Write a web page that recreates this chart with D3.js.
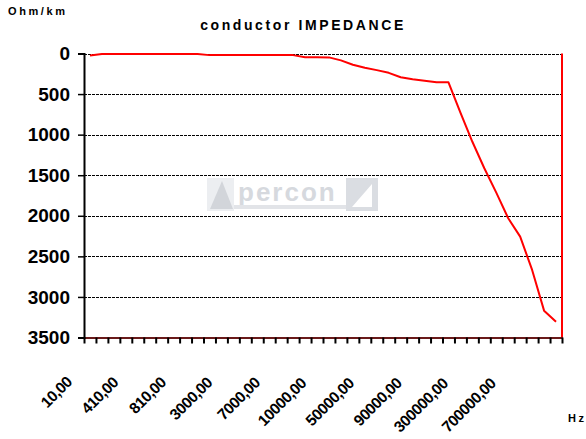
<!DOCTYPE html>
<html>
<head>
<meta charset="utf-8">
<script src="https://cdn.jsdelivr.net/npm/d3@7"></script>
<style>
	html, body { margin: 0; padding: 0; background: #fff; }
	svg { display: block; font-family: 'Liberation Sans', Arial, sans-serif; }
</style>
</head>
<body>
<svg id="chart" width="586" height="439"></svg>
<script>
// frequency categories (Hz)
const freqs = [
	10, 110, 210, 310, 410, 510, 610, 710, 810, 910,
	1000, 2000, 3000, 4000, 5000, 6000, 7000, 8000, 9000, 10000,
	10000, 20000, 30000, 40000, 50000, 60000, 70000, 80000, 90000, 100000,
	100000, 200000, 300000, 400000, 500000, 600000, 700000, 800000, 900000, 1000000
]

// impedance, Ohm/km
const impedance = [
	25, 5, 5, 5, 5, 5, 5, 5, 5, 5,
	20, 20, 20, 20, 20, 20, 20, 20, 45, 45,
	48, 85, 138, 176, 205, 238, 293, 318, 335, 355,
	355, 730, 1088, 1414, 1715, 2030, 2257, 2667, 3169, 3305
]

const yTicks = [0, 500, 1000, 1500, 2000, 2500, 3000, 3500]
const labelEvery = 4

const svg = d3.select('#chart')

const plot = { left: 84, right: 562, top: 53.5, bottom: 337.5 }

const x = d3.scaleBand()
	.domain(d3.range(freqs.length))
	.range([plot.left, plot.right])
	.padding(0)

// edges between categories, for tick marks
const xEdge = d3.scaleLinear()
	.domain([0, freqs.length])
	.range([plot.left, plot.right])

const y = d3.scaleLinear()
	.domain([0, 3500])
	.range([plot.top, plot.bottom])

// watermark (decoration only)
const wm = svg.append('g').attr('class', 'watermark')
wm.append('rect').attr('x', 207).attr('y', 178).attr('width', 27).attr('height', 33)
	.attr('fill', '#eceef1')
wm.append('polygon').attr('points', '210,209 222,181 233,209').attr('fill', '#d2d5da')
wm.append('text')
	.attr('x', 238).attr('y', 201)
	.attr('font-size', 26).attr('font-weight', 'bold')
	.attr('letter-spacing', 2)
	.attr('fill', '#d6d9de')
	.text('percon')
wm.append('rect').attr('x', 234).attr('y', 205).attr('width', 112).attr('height', 4)
	.attr('fill', '#e2e4e8')
wm.append('rect').attr('x', 346).attr('y', 178).attr('width', 32).attr('height', 33)
	.attr('fill', '#dadde2')
wm.append('polygon').attr('points', '352,207 372,207 372,184').attr('fill', '#fff')

// gridlines
svg.append('g')
	.selectAll('line')
	.data(yTicks.slice(0, -1))
	.join('line')
	.attr('x1', plot.left)
	.attr('x2', plot.right)
	.attr('y1', d => Math.round(y(d)) + 0.5)
	.attr('y2', d => Math.round(y(d)) + 0.5)
	.attr('stroke', '#000')
	.attr('stroke-width', 1)
	.attr('stroke-dasharray', '3,1')

// plot area border, right side red
svg.append('path')
	.attr('d', `M ${plot.right} ${plot.top} L ${plot.right} ${plot.bottom + 1}`)
	.attr('stroke', '#ff0000')
	.attr('stroke-width', 2)
	.attr('fill', 'none')

// x axis: ticks at category edges
const xAxis = svg.append('g')
	.attr('transform', `translate(0,${plot.bottom})`)
	.call(d3.axisBottom(xEdge)
		.tickValues(d3.range(freqs.length + 1))
		.tickSize(6)
		.tickSizeOuter(0)
		.tickFormat(''))
xAxis.select('.domain').attr('stroke', '#6a1a1a').attr('stroke-width', 2)
xAxis.selectAll('.tick line').attr('stroke', '#000').attr('stroke-width', 2)

// x labels, rotated; longer labels sit a little further left as in the original
const fmt = v => d3.format('.2f')(v).replace('.', ',')
svg.append('g')
	.selectAll('text')
	.data(d3.range(0, freqs.length, labelEvery).filter(i => i + labelEvery <= freqs.length))
	.join('text')
	.attr('transform', i => {
		const extra = fmt(freqs[i]).length - 5
		const cx = x(i) + x.bandwidth() / 2 - 17 - extra * 1.6
		const cy = 383 + extra * 0.4
		return `translate(${cx},${cy}) rotate(-45)`
	})
	.attr('text-anchor', 'end')
	.attr('font-size', 15.5)
	.attr('font-weight', 'bold')
	.attr('letter-spacing', -0.5)
	.attr('fill', '#000')
	.text(i => fmt(freqs[i]))

// y axis
const yAxis = svg.append('g')
	.attr('transform', `translate(${plot.left},0)`)
	.call(d3.axisLeft(y)
		.tickValues(yTicks)
		.tickSize(6)
		.tickPadding(8)
		.tickFormat(d => d))
yAxis.select('.domain').attr('stroke', '#000').attr('stroke-width', 2)
yAxis.selectAll('.tick line').attr('stroke', '#000').attr('stroke-width', 1.5)
yAxis.selectAll('.tick text')
	.attr('font-size', 19)
	.attr('font-weight', 'bold')
	.attr('font-family', "'Liberation Sans', Arial, sans-serif")
	.attr('fill', '#000')

// impedance line
const line = d3.line()
	.x((d, i) => x(i) + x.bandwidth() / 2)
	.y(d => y(d))

svg.append('path')
	.datum(impedance)
	.attr('d', line)
	.attr('fill', 'none')
	.attr('stroke', '#ff0000')
	.attr('stroke-width', 2)
	.attr('stroke-linejoin', 'round')

// titles
svg.append('text')
	.attr('x', 303).attr('y', 30)
	.attr('text-anchor', 'middle')
	.attr('font-size', 14)
	.attr('font-weight', 'bold')
	.attr('letter-spacing', 2.6)
	.text('conductor IMPEDANCE')

svg.append('text')
	.attr('x', 8).attr('y', 15)
	.attr('font-size', 11)
	.attr('font-weight', 'bold')
	.attr('letter-spacing', 2.6)
	.text('Ohm/km')

svg.append('text')
	.attr('x', 568).attr('y', 422)
	.attr('font-size', 11)
	.attr('font-weight', 'bold')
	.attr('letter-spacing', 2.6)
	.text('Hz')
</script>
</body>
</html>
